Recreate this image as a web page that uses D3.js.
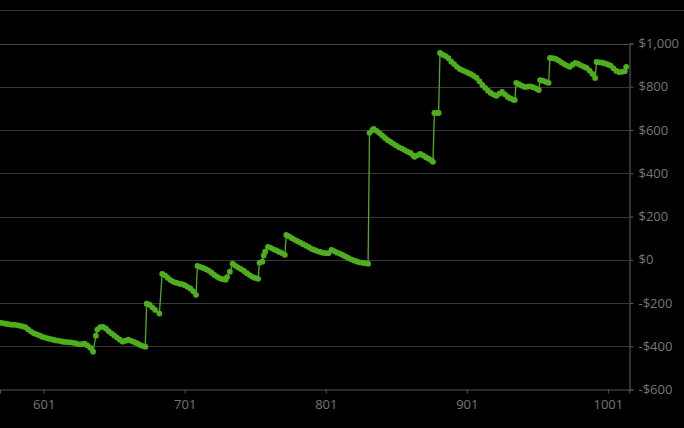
<!DOCTYPE html>
<html><head><meta charset="utf-8">
<script src="https://cdn.jsdelivr.net/npm/d3@7"></script>
<style>html,body{margin:0;padding:0;background:#000;overflow:hidden}</style>
</head><body><svg id="c" width="684" height="428"></svg>
<script>
const days = [570,572,574,576,578,580,582,584,586,588,590,592,594,596,598,600,602,604,606,608,610,612,614,616,618,620,622,624,626,628,630,632,634,636,
638,639,641,643,645,647,649,651,653,655,657,659,661,663,665,667,669,671,673,
674,676,678,680,683,
685,687,689,691,693,695,697,699,701,703,705,707,709,
710,712,714,716,718,720,722,724,726,728,730,731,733,735,737,739,741,743,745,747,749,751,753,
754,756,757,758,760,762,764,766,768,770,772,
773,775,777,779,781,783,785,787,789,791,793,795,797,799,801,803,805,807,809,811,813,815,817,819,821,823,825,827,829,831,
832,834,835,837,839,841,843,845,847,849,851,853,855,857,859,861,863,864,866,868,870,872,874,876,877,
878,880,881,
882,884,886,888,890,892,894,896,898,900,902,904,906,908,910,912,914,916,918,920,922,924,926,928,930,932,934,935,
936,938,940,942,944,946,948,950,952,
953,955,957,959,
960,962,964,966,968,970,972,974,976,978,980,982,984,986,988,990,992,
993,995,997,999,1001,1003,1005,1007,1009,1011,1013,1014];
const pnl = [-291,-293,-296,-298,-300,-300,-302,-305,-308,-312,-322,-332,-340,-345,-350,-356,-360,-364,-367,-370,-373,-375,-378,-380,-381,-382,-384,-387,-391,-390,-388,-396,-407,-425,
-351,-323,-312,-310,-318,-330,-340,-350,-360,-370,-379,-374,-370,-375,-380,-386,-393,-398,-402,
-203,-208,-220,-232,-249,
-65,-72,-84,-94,-102,-106,-110,-113,-118,-125,-133,-146,-162,
-28,-33,-38,-44,-50,-60,-70,-79,-86,-90,-92,-80,-55,-18,-28,-36,-43,-52,-62,-71,-79,-84,-88,
-14,-9,20,37,60,55,48,43,36,30,23,
115,108,100,92,86,79,72,65,58,50,45,40,36,32,30,30,46,40,33,28,22,15,8,2,-3,-8,-12,-14,-16,-18,
587,600,605,596,586,575,563,553,545,536,528,520,514,507,500,494,482,476,483,490,482,474,467,460,453,
679,679,679,
956,948,942,932,916,905,892,882,876,870,864,858,850,841,825,808,795,782,771,764,758,768,776,765,753,746,740,739,
818,812,805,799,800,802,798,792,785,
831,828,823,818,
933,932,929,922,913,905,898,892,902,910,906,899,893,887,875,860,841,
915,913,911,908,903,898,885,873,868,869,872,892];
const xTicks = [601,701,801,901,1001];
const yTicks = [-600,-400,-200,0,200,400,600,800,1000];

const svg = d3.select("#c");
const W = 684, H = 428;
const x = d3.scaleLinear().domain([570,1016]).range([0,629]);
const y = d3.scaleLinear().domain([-600,1000]).range([389.5,43.5]);

svg.append("rect").attr("width",W).attr("height",H).attr("fill","#000");
svg.append("line").attr("x1",0).attr("x2",W).attr("y1",10.5).attr("y2",10.5).attr("stroke","#333");

// gridlines
svg.append("g").selectAll("line").data(yTicks.filter(d=>d>-600)).join("line")
  .attr("x1",0).attr("x2",629).attr("y1",d=>Math.round(y(d))+0.5).attr("y2",d=>Math.round(y(d))+0.5)
  .attr("stroke",d=>d===1000?"#4a4a4a":"#363636").attr("stroke-width",1.2);

const fmt = d => (d<0?"-$":"$") + d3.format(",")(Math.abs(d));
const yAxis = d3.axisRight(y).tickValues(yTicks).tickFormat(fmt).tickSize(4).tickPadding(5);
const gy = svg.append("g").attr("transform","translate(629.5,0)").call(yAxis);
const xAxis = d3.axisBottom(x).tickValues(xTicks).tickFormat(d3.format("d")).tickSize(4).tickPadding(6);
const gx = svg.append("g").attr("transform","translate(0,389.5)").call(xAxis);
[gx,gy].forEach(g=>{
  g.select(".domain").attr("stroke","#555").attr("stroke-width",1.2);
  g.selectAll(".tick line").attr("stroke","#555");
  g.selectAll("text").attr("fill","#767676").attr("font-family","'Open Sans', sans-serif").attr("font-size",13);
});

const pts = days.map((d,i)=>[d,pnl[i]]);
const green = "#4fae1e";
svg.append("path").datum(pts)
  .attr("d", d3.line().x(d=>x(d[0])).y(d=>y(d[1])))
  .attr("fill","none").attr("stroke",green).attr("stroke-width",1.3);
svg.append("g").selectAll("circle").data(pts).join("circle")
  .attr("cx",d=>x(d[0])).attr("cy",d=>y(d[1])).attr("r",2.9).attr("fill",green);
</script></body></html>
